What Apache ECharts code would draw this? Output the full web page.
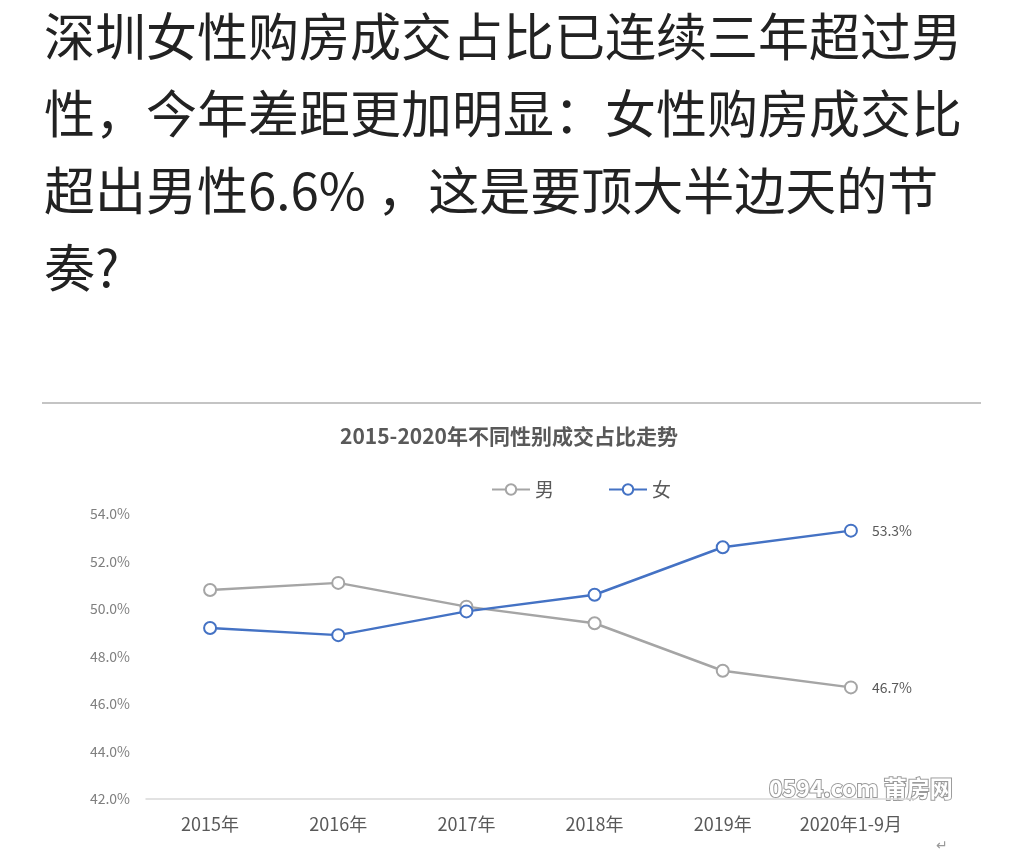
<!DOCTYPE html>
<html><head><meta charset="utf-8">
<script src="https://cdn.jsdelivr.net/npm/echarts@6/dist/echarts.min.js"></script>
<style>html,body{margin:0;padding:0;background:#fff}#c{width:1024px;height:857px}</style>
</head><body><div id="c"></div>
<script>
const headingLines = ['深圳女性购房成交占比已连续三年超过男','性，今年差距更加明显：女性购房成交比','超出男性6.6% ，这是要顶大半边天的节','奏?'];
const chartTitle = '2015-2020年不同性别成交占比走势';
const categories = ['2015年','2016年','2017年','2018年','2019年','2020年1-9月'];
const maleName = '男';
const femaleName = '女';
const maleValues = [50.8, 51.1, 50.1, 49.4, 47.4, 46.7];
const femaleValues = [49.2, 48.9, 49.9, 50.6, 52.6, 53.3];
const watermark = '0594.com 莆房网';

const chart = echarts.init(document.getElementById('c'), null, {renderer:'canvas'});
const font = '"Noto Sans CJK SC", "Noto Sans", sans-serif';
const lastLabel = () => ({
  show: true, position: 'right', distance: 14, color: '#595959', fontSize: 14, fontFamily: font,
  formatter: p => p.dataIndex === categories.length - 1 ? p.value.toFixed(1) + '%' : ''
});
const graphics = headingLines.map((t, i) => ({
  type: 'text', left: 44, top: 11 + i * 77,
  style: { text: t, font: '51px ' + font, fill: '#222' }
}));
graphics.push({ type: 'line', shape: { x1: 42, y1: 403, x2: 981, y2: 403 }, style: { stroke: '#8a8a8a', lineWidth: 1.2 } });
graphics.push({ type: 'text', left: 768, top: 776, style: { text: watermark, font: 'bold 23px ' + font, fill: '#fff', stroke: '#9a9a9a', lineWidth: 2 } });
graphics.push({ type: 'text', left: 936, top: 838, style: { text: '↵', font: '14px ' + font, fill: '#999' } });

chart.setOption({
  backgroundColor: '#fff',
  textStyle: { fontFamily: font },
  title: { text: chartTitle, left: 504, textAlign: 'center', top: 421,
    textStyle: { fontSize: 21, fontWeight: 'bold', color: '#595959', fontFamily: font } },
  legend: { top: 475, left: 486, itemWidth: 38, itemHeight: 13, itemGap: 54, itemStyle: { borderWidth: 2.5 },
    textStyle: { fontSize: 19, color: '#595959', fontFamily: font },
    data: [maleName, femaleName] },
  grid: { left: 146, right: 109, top: 514, bottom: 58, containLabel: false },
  xAxis: { type: 'category', data: categories, boundaryGap: true,
    axisLine: { lineStyle: { color: '#d9d9d9', width: 1.5 } }, axisTick: { show: false },
    axisLabel: { fontSize: 18, color: '#595959', margin: 16, interval: 0, hideOverlap: false, fontFamily: font } },
  yAxis: { type: 'value', min: 42, max: 54, interval: 2,
    axisLine: { show: false }, axisTick: { show: false }, splitLine: { show: false },
    axisLabel: { fontSize: 14, color: '#7f7f7f', margin: 16, formatter: v => v.toFixed(1) + '%', fontFamily: font } },
  series: [
    { name: maleName, type: 'line', data: maleValues, symbol: 'emptyCircle', symbolSize: 12,
      lineStyle: { color: '#a5a5a5', width: 2.5 }, itemStyle: { color: '#a5a5a5', borderWidth: 2.5 },
      label: lastLabel(), z: 2 },
    { name: femaleName, type: 'line', data: femaleValues, symbol: 'emptyCircle', symbolSize: 12,
      lineStyle: { color: '#4472c4', width: 2.5 }, itemStyle: { color: '#4472c4', borderWidth: 2.5 },
      label: lastLabel(), z: 3 }
  ],
  graphic: graphics,
  animation: false
});
</script></body></html>
